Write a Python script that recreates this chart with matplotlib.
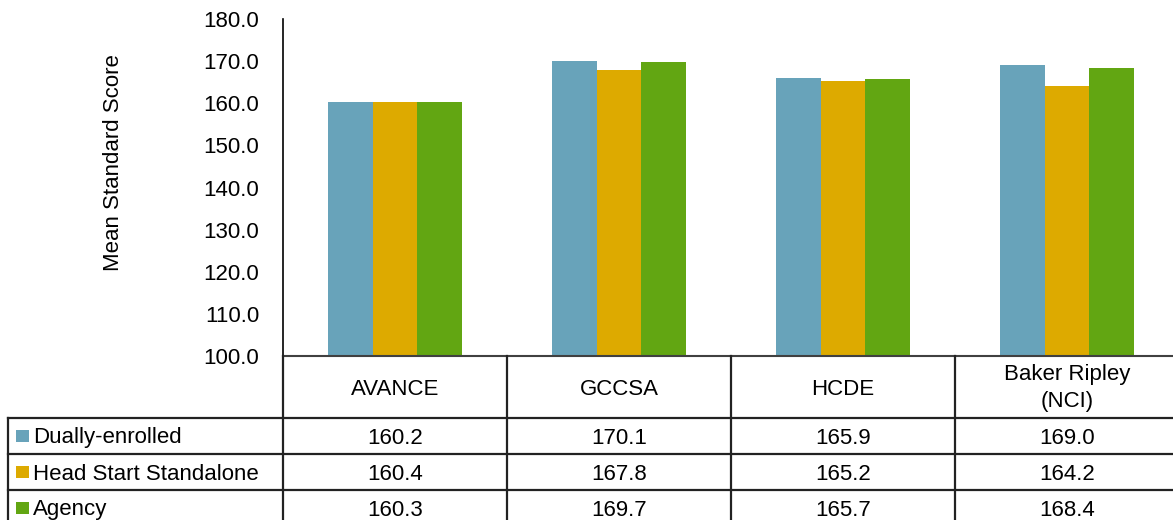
import matplotlib
matplotlib.use('Agg')
import matplotlib.pyplot as plt
from matplotlib.transforms import blended_transform_factory
from matplotlib.lines import Line2D
from matplotlib.patches import Rectangle
import numpy as np

categories = ['AVANCE', 'GCCSA', 'HCDE', 'Baker Ripley\n(NCI)']
series_names = ['Dually-enrolled', 'Head Start Standalone', 'Agency']
dually = [160.2, 170.1, 165.9, 169.0]
standalone = [160.4, 167.8, 165.2, 164.2]
agency = [160.3, 169.7, 165.7, 168.4]
colors = ['#68A3BA', '#DDAA00', '#62A612']
yticks = [100, 110, 120, 130, 140, 150, 160, 170, 180]
ylabel = 'Mean Standard Score'

series = [dually, standalone, agency]
FS = 16

plt.rcParams['font.family'] = ['Liberation Sans', 'DejaVu Sans']
W, H = 1173, 520
fig = plt.figure(figsize=(W / 100, H / 100), dpi=100)
ax = fig.add_axes([283 / W, 164 / H, 896 / W, 337 / H])

x = np.arange(len(categories))
bw = 0.2
for i, (vals, c) in enumerate(zip(series, colors)):
    ax.bar(x + (i - 1) * bw, vals, bw, color=c, linewidth=0)

ax.set_ylim(100, 180)
ax.set_xlim(-0.5, len(categories) - 0.5)
ax.set_yticks(yticks)
ax.set_yticklabels([f'{v:.1f}' for v in yticks], fontsize=FS)
ax.tick_params(axis='y', length=0, pad=17)
ax.set_xticks([])
for s in ['top', 'right']:
    ax.spines[s].set_visible(False)
ax.spines['left'].set_color('#000000')
ax.spines['left'].set_linewidth(1.2)
ax.spines['bottom'].set_color('#404040')
ax.spines['bottom'].set_linewidth(1.5)

fig.text(114 / W, 1 - 163 / H, ylabel, rotation=90, ha='center', va='center', fontsize=FS)

# data table below the chart
def fy(py):
    return 1 - py / H

trans = blended_transform_factory(ax.transData, fig.transFigure)
line_kw = dict(color='#222222', linewidth=1.6, clip_on=False)

row_edges = [356, 418, 454, 490, 526]
# vertical lines at category boundaries
for b in np.arange(len(categories) + 1) - 0.5:
    fig.add_artist(Line2D([b, b], [fy(356), fy(526)], transform=trans, **line_kw))
# horizontal lines
x_right = len(categories) - 0.5
x_left_fig = 8 / W
xl = ax.transData.inverted().transform(fig.transFigure.transform((x_left_fig, 0)))[0]
for py in row_edges[1:4]:
    fig.add_artist(Line2D([xl, x_right], [fy(py), fy(py)], transform=trans, **line_kw))
fig.add_artist(Line2D([x_left_fig, x_left_fig], [fy(418), fy(526)],
                      transform=fig.transFigure, **line_kw))

# header row (baseline positions in pixels)
for xi, cat in zip(x, categories):
    lines = cat.split('\n')
    if len(lines) == 1:
        baselines = [395]
    else:
        baselines = [380, 407]
    for ln, bl in zip(lines, baselines):
        fig.text(xi, fy(bl), ln, transform=trans, ha='center', va='baseline',
                 fontsize=FS)

# value rows
centers = [436, 472, 508]
for r, (name, vals, c) in enumerate(zip(series_names, series, colors)):
    cy = centers[r]
    bl = cy + 7.5
    fig.add_artist(Rectangle((16 / W, fy(cy + 6)), 13 / W, 12 / H,
                             transform=fig.transFigure, color=c, linewidth=0))
    fig.text(33 / W, fy(bl), name, ha='left', va='baseline', fontsize=FS)
    for xi, v in zip(x, vals):
        fig.text(xi, fy(bl), f'{v:.1f}', transform=trans, ha='center',
                 va='baseline', fontsize=FS)

fig.savefig('out.png', dpi=100)
